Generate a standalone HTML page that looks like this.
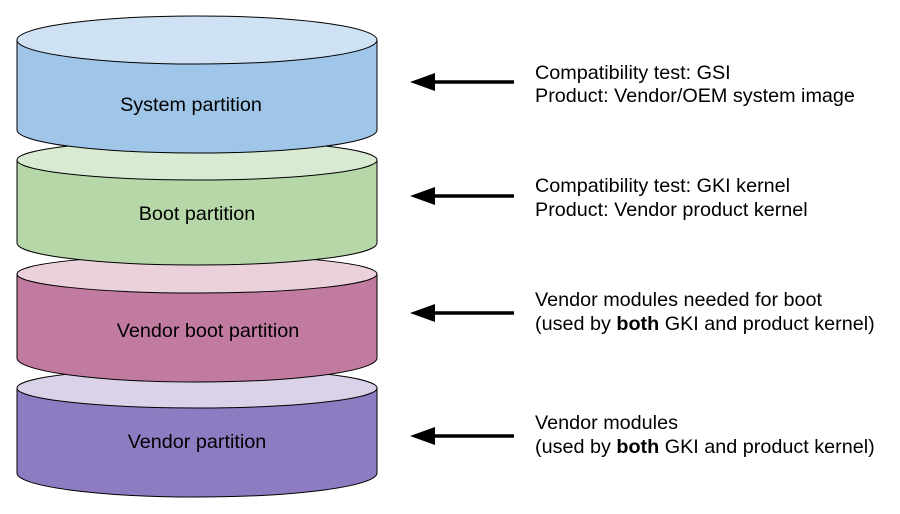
<!DOCTYPE html>
<html><head><meta charset="utf-8"><style>
html,body{margin:0;padding:0;background:#fff;}
svg{display:block;}
text{font-family:"Liberation Sans",Arial,sans-serif;fill:#000;}
</style></head><body>
<svg width="900" height="514" viewBox="0 0 900 514" xmlns="http://www.w3.org/2000/svg">
<g stroke="#000" stroke-width="1">
  <path d="M17,388 L17,473 A180,24 0 0 0 377,473 L377,388 Z" fill="#8e7cc3"/>
  <ellipse cx="197" cy="388" rx="180" ry="20" fill="#d9d2e9"/>
  <path d="M17,274 L17,358 A180,24 0 0 0 377,358 L377,274 Z" fill="#c27ba0"/>
  <ellipse cx="197" cy="274" rx="180" ry="19" fill="#ead1dc"/>
  <path d="M17,160 L17,243 A180,22 0 0 0 377,243 L377,160 Z" fill="#b6d7a8"/>
  <ellipse cx="197" cy="160" rx="180" ry="20" fill="#d9ead3"/>
  <path d="M17,40 L17,130 A180,23 0 0 0 377,130 L377,40 Z" fill="#9fc5e8"/>
  <ellipse cx="197" cy="40" rx="180" ry="24" fill="#cfe2f3"/>
</g>
<g font-size="19.8" text-anchor="middle">
  <text x="191" y="111">System partition</text>
  <text x="197" y="220">Boot partition</text>
  <text x="208" y="337">Vendor boot partition</text>
  <text x="197" y="448">Vendor partition</text>
</g>
<g stroke="#000" stroke-width="3.5">
  <line x1="430" y1="82" x2="514" y2="82"/>
  <line x1="430" y1="196" x2="514" y2="196"/>
  <line x1="430" y1="313" x2="514" y2="313"/>
  <line x1="430" y1="436" x2="514" y2="436"/>
</g>
<g fill="#000">
  <polygon points="410,82 435,73 435,91"/>
  <polygon points="410,196 435,187 435,205"/>
  <polygon points="410,313 435,304 435,322"/>
  <polygon points="410,436 435,427 435,445"/>
</g>
<g font-size="19.8">
  <text x="535" y="79">Compatibility test: GSI</text>
  <text x="535" y="102">Product: Vendor/OEM system image</text>
  <text x="535" y="192">Compatibility test: GKI kernel</text>
  <text x="535" y="216">Product: Vendor product kernel</text>
  <text x="535" y="306">Vendor modules needed for boot</text>
  <text x="535" y="330">(used by <tspan font-weight="bold">both</tspan> GKI and product kernel)</text>
  <text x="535" y="429">Vendor modules</text>
  <text x="535" y="453">(used by <tspan font-weight="bold">both</tspan> GKI and product kernel)</text>
</g>
</svg>
</body></html>
